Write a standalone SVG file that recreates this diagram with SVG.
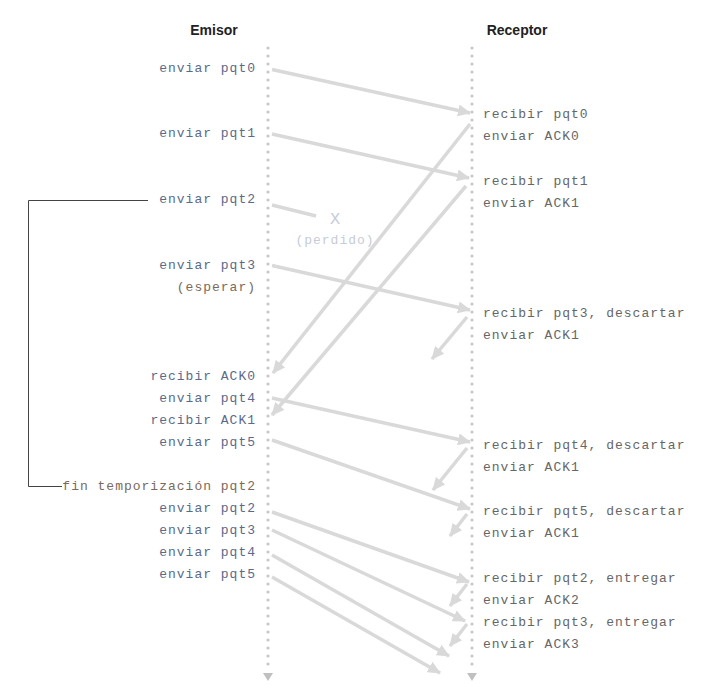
<svg xmlns="http://www.w3.org/2000/svg" width="709" height="699" viewBox="0 0 709 699">
<style>
.hdr{font-family:"Liberation Sans",Arial,sans-serif;font-weight:bold;font-size:14px;fill:#222;text-anchor:middle}
.t{font-family:"Liberation Mono","Courier New",monospace;font-size:13px;letter-spacing:1px}
.l{fill:#5b6a88;text-anchor:end}
.r{fill:#666}
.w{fill:#7a6a5c;text-anchor:end}
.lost{fill:#c6ccd8;text-anchor:middle}
.life{stroke:#c8c8c8;stroke-width:3.2;stroke-linecap:round;stroke-dasharray:0 8;fill:none}
.tri{fill:#c0c0c0}
.msg{stroke:#d9d9d9;stroke-width:3.5;fill:none;marker-end:url(#ah)}
.br{stroke:#444;stroke-width:1;fill:none}
</style>
<defs>
<marker id="ah" markerUnits="userSpaceOnUse" markerWidth="14" markerHeight="12" refX="12" refY="6" orient="auto">
<path d="M0,0 L13,6 L0,12 Z" fill="#d9d9d9"/>
</marker>
</defs>
<rect width="709" height="699" fill="#fff"/>
<g id="emisor">
<text class="hdr" x="214" y="35">Emisor</text>
<path class="life" d="M268,48 V668"/>
<path class="tri" d="M263,673 H273 L268,681 Z"/>
</g>
<g id="receptor">
<text class="hdr" x="517" y="35">Receptor</text>
<path class="life" d="M472,48 V668"/>
<path class="tri" d="M467,673 H477 L472,681 Z"/>
</g>
<g id="emisor-labels" class="t">
<text class="l" x="256" y="72">enviar pqt0</text>
<text class="l" x="256" y="137">enviar pqt1</text>
<text class="l" x="256" y="203">enviar pqt2</text>
<text class="l" x="256" y="269">enviar pqt3</text>
<text class="w" x="256" y="291">(esperar)</text>
<text class="l" x="256" y="380">recibir ACK0</text>
<text class="l" x="256" y="402">enviar pqt4</text>
<text class="l" x="256" y="424">recibir ACK1</text>
<text class="l" x="256" y="446">enviar pqt5</text>
<text class="w" x="256" y="490">fin temporización pqt2</text>
<text class="l" x="256" y="512">enviar pqt2</text>
<text class="l" x="256" y="534">enviar pqt3</text>
<text class="l" x="256" y="556">enviar pqt4</text>
<text class="l" x="256" y="578">enviar pqt5</text>
</g>
<g id="receptor-labels" class="t">
<text class="r" x="483" y="118">recibir pqt0</text>
<text class="r" x="483" y="140">enviar ACK0</text>
<text class="r" x="483" y="185">recibir pqt1</text>
<text class="r" x="483" y="207">enviar ACK1</text>
<text class="r" x="483" y="317">recibir pqt3, descartar</text>
<text class="r" x="483" y="339">enviar ACK1</text>
<text class="r" x="483" y="449">recibir pqt4, descartar</text>
<text class="r" x="483" y="471">enviar ACK1</text>
<text class="r" x="483" y="515">recibir pqt5, descartar</text>
<text class="r" x="483" y="537">enviar ACK1</text>
<text class="r" x="483" y="582">recibir pqt2, entregar</text>
<text class="r" x="483" y="604">enviar ACK2</text>
<text class="r" x="483" y="626">recibir pqt3, entregar</text>
<text class="r" x="483" y="648">enviar ACK3</text>
</g>
<g id="timeout-bracket">
<path class="br" d="M148,200.5 H28.5 V486.5 H62"/>
</g>
<g id="lost">
<path d="M272,205 L316,216" stroke="#d9d9d9" stroke-width="3.5" fill="none"/>
<text class="lost" x="335" y="224" style="font-family:'Liberation Mono','Courier New',monospace;font-size:17px">X</text>
<text class="t lost" x="335" y="244">(perdido)</text>
</g>
<g id="connectors">
<path class="msg" d="M272,69.5 L470,113"/>
<path class="msg" d="M272,134 L469,178"/>
<path class="msg" d="M272,265.5 L470,310"/>
<path class="msg" d="M470,124 L273,373"/>
<path class="msg" d="M466,186 L272,415"/>
<path class="msg" d="M467,317 L432,359"/>
<path class="msg" d="M272,398 L470,442"/>
<path class="msg" d="M467,448 L433,490"/>
<path class="msg" d="M272,440 L470,509"/>
<path class="msg" d="M467,514 L450,536"/>
<path class="msg" d="M272,512 L469,582"/>
<path class="msg" d="M467,584 L450,606"/>
<path class="msg" d="M272,530 L465,621"/>
<path class="msg" d="M467,624 L450,646"/>
<path class="msg" d="M272,555 L449,656"/>
<path class="msg" d="M272,577 L440,673"/>
</g>
</svg>
